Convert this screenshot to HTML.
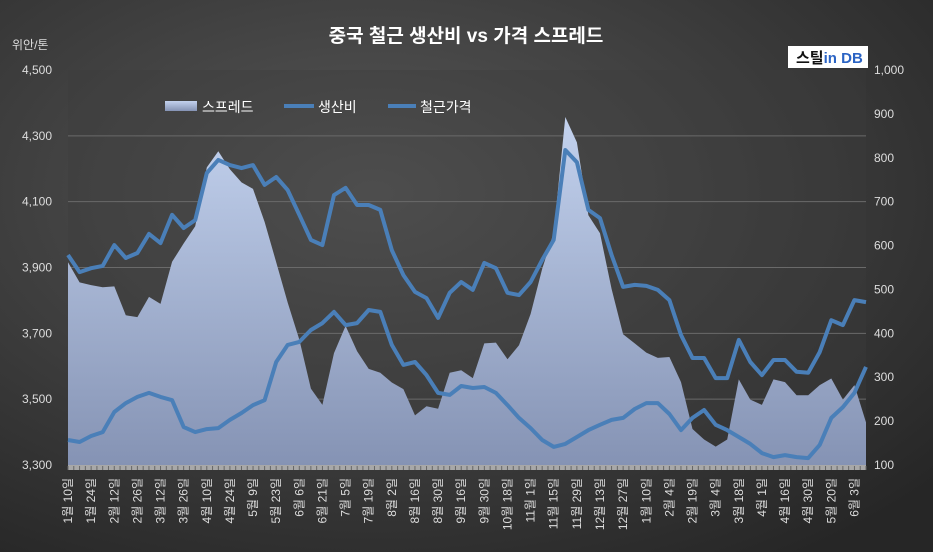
<!DOCTYPE html>
<html><head><meta charset="utf-8"><style>
body{margin:0;width:933px;height:552px;overflow:hidden;background:#2b2b2b;}
svg{display:block;font-family:"Liberation Sans","Noto Sans CJK KR",sans-serif;}
</style></head><body>
<svg id="chart" width="933" height="552" viewBox="0 0 933 552">
<defs>
<radialGradient id="bg" cx="0.4" cy="0.35" r="0.8"><stop offset="0" stop-color="#575757"/><stop offset="1" stop-color="#262626"/></radialGradient>
<linearGradient id="area" x1="0" y1="0" x2="0" y2="1"><stop offset="0" stop-color="#c3d2ee"/><stop offset="1" stop-color="#8593b4"/></linearGradient>
</defs>
<rect x="0" y="0" width="933" height="552" fill="url(#bg)"/>
<text x="466" y="42" fill="#fff" font-size="19" font-weight="bold" text-anchor="middle">중국 철근 생산비 vs 가격 스프레드</text>
<text x="12" y="49" fill="#ddd" font-size="12">위안/톤</text>
<g><rect x="788" y="46" width="80" height="22" fill="#fff"/><text x="796" y="63" font-size="15" font-weight="bold" fill="#111">스틸<tspan fill="#2a63c4">in</tspan> <tspan fill="#2a63c4">DB</tspan></text></g>
<g id="grid"></g><g id="series"></g><g id="axes"></g>
<g>
<g><rect x="165" y="101" width="32" height="10" fill="url(#area)"/><text x="202" y="112" fill="#fff" font-size="14">스프레드</text></g>
<g><line x1="284" y1="106" x2="314" y2="106" stroke="#4a7fb8" stroke-width="4"/><text x="318" y="112" fill="#fff" font-size="14">생산비</text></g>
<g><line x1="388" y1="106" x2="416" y2="106" stroke="#4a7fb8" stroke-width="4"/><text x="420" y="112" fill="#fff" font-size="14">철근가격</text></g>
</g>
</svg>
<script>
const labels=["1월 10일","1월 24일","2월 12일","2월 26일","3월 12일","3월 26일","4월 10일","4월 24일","5월 9일","5월 23일","6월 6일","6월 21일","7월 5일","7월 19일","8월 2일","8월 16일","8월 30일","9월 16일","9월 30일","10월 18일","11월 1일","11월 15일","11월 29일","12월 13일","12월 27일","1월 10일","2월 4일","2월 19일","3월 4일","3월 18일","4월 1일","4월 16일","4월 30일","5월 20일","6월 3일"];
const price=[3938,3886,3898,3905,3968,3929,3944,4002,3974,4060,4020,4044,4187,4227,4211,4202,4211,4151,4175,4135,4060,3984,3968,4120,4142,4090,4090,4075,3953,3877,3826,3807,3747,3823,3856,3832,3914,3898,3823,3816,3856,3923,3984,4257,4220,4075,4050,3938,3841,3847,3844,3832,3801,3695,3625,3625,3564,3564,3680,3613,3573,3619,3619,3583,3580,3643,3740,3725,3801,3795];
const cost=[3376,3370,3388,3400,3461,3488,3507,3519,3507,3497,3415,3400,3409,3412,3437,3458,3482,3497,3613,3665,3674,3710,3731,3765,3725,3731,3771,3765,3665,3604,3613,3573,3519,3513,3540,3534,3537,3519,3482,3443,3412,3376,3355,3364,3385,3406,3422,3437,3443,3470,3488,3488,3455,3406,3443,3467,3422,3406,3385,3364,3336,3324,3330,3324,3321,3361,3443,3476,3519,3598];
const spread=[562,516,510,505,507,441,437,483,467,563,605,644,778,815,774,744,729,654,562,470,386,274,237,355,417,359,319,310,288,273,213,234,228,310,316,298,377,379,341,373,444,547,629,893,835,669,628,501,398,377,356,344,346,289,182,158,142,158,295,249,237,295,289,259,259,282,297,249,282,197];
const leftTicks=[3300,3500,3700,3900,4100,4300,4500];
const rightTicks=[100,200,300,400,500,600,700,800,900,1000];
const NS="http://www.w3.org/2000/svg";
const X0=68,X1=866,Y0=465,Y1=70;
const n=price.length;
function xs(i){return X0+i*(X1-X0)/(n-1);}
function yl(v){return Y0-(v-3300)/1200*(Y0-Y1);}
function yr(v){return Y0-(v-100)/900*(Y0-Y1);}
function mk(tag,attrs,parent){const e=document.createElementNS(NS,tag);for(const k in attrs)e.setAttribute(k,attrs[k]);parent.appendChild(e);return e;}
const grid=document.getElementById('grid'),ser=document.getElementById('series'),ax=document.getElementById('axes');
const plot=mk('rect',{x:X0,y:Y1,width:X1-X0,height:Y0-Y1,fill:'#3c3c3c',opacity:0.35},grid);


leftTicks.forEach(v=>{
 if(v>3300&&v<4500){const g=mk('line',{x1:X0,x2:X1,y1:yl(v),y2:yl(v),stroke:'#6a6a6a','stroke-width':1},grid);
 
 }
 const t=mk('text',{x:52,y:yl(v)+4,fill:'#ddd','font-size':12,'text-anchor':'end'},ax);t.textContent=v.toLocaleString('en-US');
 
 
});
rightTicks.forEach(v=>{
 const t=mk('text',{x:874,y:yr(v)+4,fill:'#ddd','font-size':12},ax);t.textContent=v.toLocaleString('en-US');
 
 
});
let d='M'+X0+','+Y0;
spread.forEach((v,i)=>{d+=' L'+xs(i).toFixed(1)+','+yr(v).toFixed(1);});
d+=' L'+X1+','+Y0+' Z';
const ar=mk('path',{d:d,fill:'url(#area)'},ser);


function line(arr,name){let p='';arr.forEach((v,i)=>{p+=(i?' L':'M')+xs(i).toFixed(1)+','+yl(v).toFixed(1);});
 const e=mk('path',{d:p,fill:'none',stroke:'#4a7fb8','stroke-width':4,'stroke-linejoin':'round'},ser);
 
 }
line(cost,'cost-line');
line(price,'price-line');
const base=mk('rect',{x:X0,y:Y0,width:X1-X0,height:5,fill:'#a8a8a8'},ax);


for(let k=0;k<=2*(n-1);k++){const xx=X0+k*(X1-X0)/(2*(n-1));mk('line',{x1:xx,x2:xx,y1:Y0+1,y2:Y0+5,stroke:'#666','stroke-width':1},ax);}
labels.forEach((s,j)=>{
 const x=xs(j*2)+4;
 const t=mk('text',{x:x,y:478,fill:'#ddd','font-size':12,'text-anchor':'end',transform:'rotate(-90 '+x+' 478)'},ax);
 t.textContent=s;
 
 
});
</script>
</body></html>
